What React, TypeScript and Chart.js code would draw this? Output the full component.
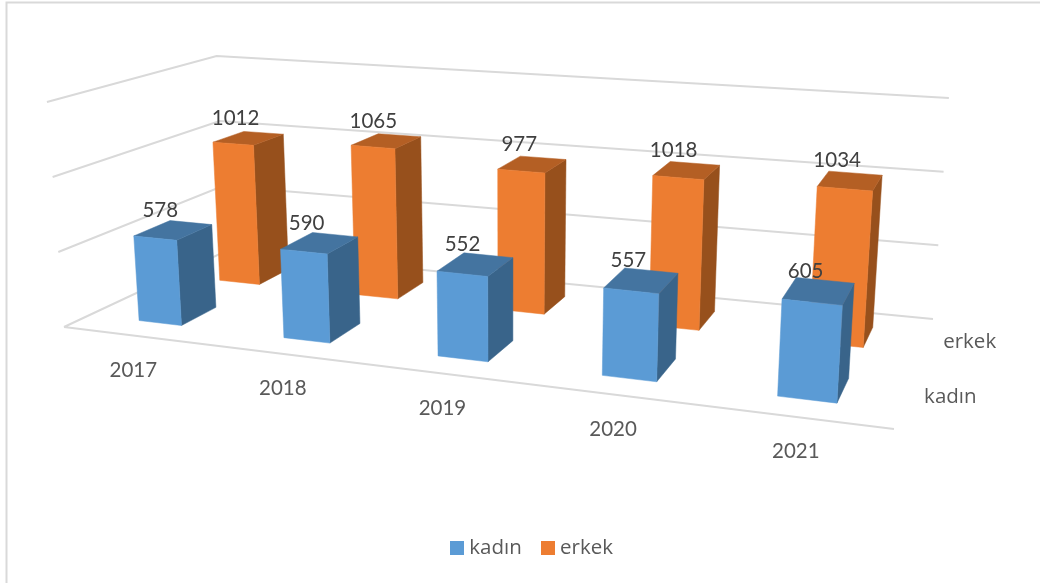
import React, { useEffect, useRef } from "react";
import { Chart, registerables } from "chart.js";

Chart.register(...registerables);

const years = ["2017", "2018", "2019", "2020", "2021"];
const depthLabels = ["kadın", "erkek"];
const kadin = [578, 590, 552, 557, 605];
const erkek = [1012, 1065, 977, 1018, 1034];
const axisMax = 1500;
const axisStep = 500;

type Pt = [number, number];
// projection of the plot box floor: front-left, front-right, back-right, back-left
const floorQuad: Pt[] = [[64, 327], [894, 429], [933, 319], [226, 251]];
// on-screen height of the full value axis at each of those corners
const wallHeight = [225, 252, 221, 195];
const VERT_K = 0.00017;
const VERT_X0 = 510;

const BLUE = { front: "#5B9BD5", top: "#4474A0", side: "#39648A" };
const ORANGE = { front: "#ED7D31", top: "#B45F24", side: "#97501C" };
const GRID = "#D9D9D9";
const BAR_DEPTH = 0.21;
const ROW_SHIFT = -0.005;
const COLUMN_BOW = 0.05;
const BAR_FORESHORTEN = 0.985;

function quadMap(q: Pt[]) {
  const [[x0, y0], [x1, y1], [x2, y2], [x3, y3]] = q;
  const dx1 = x1 - x2, dx2 = x3 - x2, sx = x0 - x1 + x2 - x3;
  const dy1 = y1 - y2, dy2 = y3 - y2, sy = y0 - y1 + y2 - y3;
  const det = dx1 * dy2 - dx2 * dy1;
  const g = (sx * dy2 - dx2 * sy) / det;
  const h = (dx1 * sy - sx * dy1) / det;
  const a = x1 - x0 + g * x1, b = x3 - x0 + h * x3, c = x0;
  const d = y1 - y0 + g * y1, e = y3 - y0 + h * y3, f = y0;
  return (u: number, v: number): Pt => {
    const w = g * u + h * v + 1;
    return [(a * u + b * v + c) / w, (d * u + e * v + f) / w];
  };
}
const floorMap = quadMap(floorQuad);
function project(u: number, v: number, h: number): Pt {
  const p = floorMap(u, v);
  const H =
    wallHeight[0] * (1 - u) * (1 - v) +
    wallHeight[1] * u * (1 - v) +
    wallHeight[2] * u * v +
    wallHeight[3] * (1 - u) * v;
  return [p[0] + h * H * VERT_K * (p[0] - VERT_X0), p[1] - h * H];
}
const bow = (u: number) => u + COLUMN_BOW * u * (1 - u);

function poly(ctx: CanvasRenderingContext2D, pts: Pt[], fill: string) {
  ctx.beginPath();
  pts.forEach((p, i) => (i ? ctx.lineTo(p[0], p[1]) : ctx.moveTo(p[0], p[1])));
  ctx.closePath();
  ctx.fillStyle = fill;
  ctx.fill();
  ctx.strokeStyle = fill;
  ctx.lineWidth = 0.5;
  ctx.stroke();
}

const box3d = {
  id: "box3d",
  beforeDatasetsDraw(chart: any) {
    const { ctx } = chart;
    const xs = chart.scales.x, ys = chart.scales.y, zs = chart.scales.z;
    const nu = (px: number) => (px - xs.left) / xs.width;
    const nh = (py: number) => (ys.bottom - py) / ys.height;
    const nz = (i: number) => (zs.getPixelForValue(i) - zs.left) / zs.width;

    ctx.save();
    // chart frame
    ctx.strokeStyle = GRID;
    ctx.lineWidth = 2;
    ctx.beginPath();
    ctx.moveTo(6.5, 583);
    ctx.lineTo(6.5, 2.5);
    ctx.lineTo(1040, 2.5);
    ctx.stroke();

    // gridlines on the walls
    ctx.strokeStyle = GRID;
    ctx.lineWidth = 2;
    ys.ticks.forEach((t: any) => {
      const h = nh(ys.getPixelForValue(t.value));
      const a = project(0, 0, h), b = project(0, 1, h), c = project(1, 1, h);
      ctx.beginPath();
      ctx.moveTo(a[0], a[1]);
      ctx.lineTo(b[0], b[1]);
      ctx.lineTo(c[0], c[1]);
      if (t.value === 0) {
        const d = project(1, 0, 0);
        ctx.moveTo(a[0], a[1]);
        ctx.lineTo(d[0], d[1]);
      }
      ctx.stroke();
    });

    // bars: back row first
    const labels: { text: string; x: number; y: number }[] = [];
    [1, 0].forEach((di) => {
      const meta = chart.getDatasetMeta(di);
      const col = di === 0 ? BLUE : ORANGE;
      const vc = nz(di) + ROW_SHIFT;
      const dv = BAR_DEPTH / 2;
      meta.data.forEach((el: any, i: number) => {
        const uc = bow(nu(el.x));
        const du = el.width / xs.width / 2;
        const h = nh(el.y) * BAR_FORESHORTEN;
        const FL0 = project(uc - du, vc - dv, 0), FR0 = project(uc + du, vc - dv, 0), BR0 = project(uc + du, vc + dv, 0);
        const FL = project(uc - du, vc - dv, h), FR = project(uc + du, vc - dv, h), BR = project(uc + du, vc + dv, h), BL = project(uc - du, vc + dv, h);
        poly(ctx, [FR0, BR0, BR, FR], col.side);
        poly(ctx, [FL, FR, BR, BL], col.top);
        poly(ctx, [FL0, FR0, FR, FL], col.front);
        const c = project(uc, vc, h);
        labels.push({ text: String(chart.data.datasets[di].data[i]), x: c[0] - 13, y: c[1] - 20 });
      });
    });

    ctx.textAlign = "center";
    ctx.textBaseline = "middle";
    ctx.font = "20.5px Lato";
    ctx.fillStyle = "#404040";
    labels.forEach((l) => ctx.fillText(l.text, l.x, l.y));

    // category labels along the front edge
    ctx.fillStyle = "#595959";
    years.forEach((y, i) => {
      const p = project(bow(nu(xs.getPixelForValue(i))), 0, 0);
      ctx.fillText(y, p[0] - 2, p[1] + 34.5);
    });
    // depth labels along the right edge
    ctx.font = "20.5px 'Open Sans'";
    depthLabels.forEach((d, i) => {
      const p = project(1, nz(i), 0);
      ctx.fillText(d, p[0] + 45, p[1]);
    });
    ctx.restore();
    return false;
  },
};

function swatch(color: string) {
  const c = document.createElement("canvas");
  c.width = 14;
  c.height = 14;
  const g = c.getContext("2d")!;
  g.fillStyle = color;
  g.fillRect(0, 0, 14, 14);
  return c;
}

export default function App() {
  const ref = useRef<HTMLCanvasElement>(null);
  useEffect(() => {
    const chart = new Chart(ref.current!, {
      type: "bar",
      data: {
        labels: years,
        datasets: [
          { label: depthLabels[0], data: kadin, backgroundColor: BLUE.front, barPercentage: 0.31, categoryPercentage: 1 },
          { label: depthLabels[1], data: erkek, backgroundColor: ORANGE.front, barPercentage: 0.31, categoryPercentage: 1 },
        ],
      },
      options: {
        responsive: false,
        animation: false,
        layout: { padding: { left: 28, bottom: 15 } },
        scales: {
          x: { display: false },
          y: { display: false, min: 0, max: axisMax, ticks: { stepSize: axisStep } },
          z: { type: "category", axis: "x", labels: depthLabels, offset: true, display: false } as any,
        },
        datasets: { bar: { grouped: false } },
        plugins: {
          tooltip: { enabled: false },
          legend: {
            position: "bottom",
            labels: {
              usePointStyle: true,
              pointStyleWidth: 4,
              boxHeight: 14,
              padding: 24,
              color: "#595959",
              font: { family: "'Open Sans'", size: 20.5 },
              generateLabels(c: any) {
                return Chart.defaults.plugins.legend.labels.generateLabels(c).map((it: any, i: number) => ({
                  ...it,
                  pointStyle: swatch(i === 0 ? BLUE.front : ORANGE.front),
                }));
              },
            },
          },
        },
      } as any,
      plugins: [box3d],
    });
    return () => chart.destroy();
  }, []);
  return (
    <div style={{ position: "absolute", left: 0, top: 0, width: 1040, height: 583, background: "#fff" }}>
      <canvas ref={ref} width={1040} height={583} style={{ display: "block" }} />
    </div>
  );
}
